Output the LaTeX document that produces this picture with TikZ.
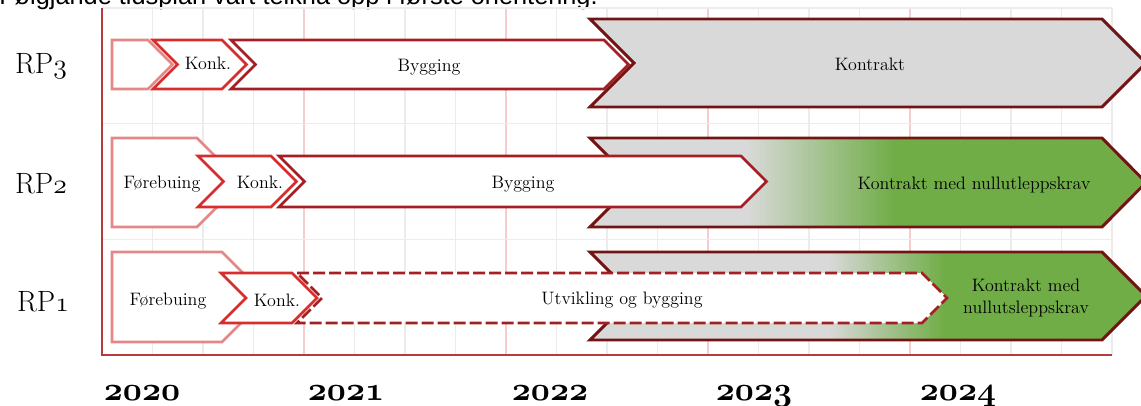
\documentclass[tikz,border=0pt]{standalone}
\usepackage{fontspec}
\newfontfamily\captionfont{Liberation Sans}
\newcommand{\osnum}[1]{{\usefont{OML}{cmm}{m}{it}#1}}
\newcommand{\osbold}[1]{{\usefont{OML}{cmm}{b}{it}#1}}
\definecolor{prepred}{RGB}{230,135,135}
\definecolor{konkred}{RGB}{215,45,45}
\definecolor{buildred}{RGB}{165,30,35}
\definecolor{maroon}{RGB}{115,20,20}
\definecolor{cgray}{RGB}{217,217,217}
\definecolor{cgreen}{RGB}{112,173,71}
\definecolor{gridgray}{RGB}{236,236,236}
\definecolor{gridpink}{RGB}{246,205,205}
\definecolor{axisred}{RGB}{180,60,60}
\begin{document}
\begin{tikzpicture}[x=0.75pt, y=-0.75pt,
    gridline/.style={draw=gridgray, line width=0.8pt},
    yearline/.style={draw=gridpink, line width=0.8pt},
    prepbox/.style={draw=prepred, line width=2pt, fill=white},
    konkbox/.style={draw=konkred, line width=2pt, fill=white},
    buildbox/.style={draw=buildred, line width=2pt, fill=white},
    devbox/.style={draw=buildred, line width=2pt, fill=white, dash pattern=on 9pt off 3pt},
    contractbox/.style={draw=maroon, line width=2.2pt, fill=cgray},
    lbl/.style={anchor=base, inner sep=0pt, text=black, font=\fontsize{13.5}{16}\selectfont},
    rplbl/.style={anchor=base, inner sep=0pt, font=\fontsize{22}{26}\selectfont},
    yearlbl/.style={anchor=base, inner sep=0pt, font=\fontsize{24}{28}\selectfont}]
    \useasboundingbox (0,0) rectangle (1141,405);

    % Caption line (cut off at the top)
    \node[anchor=base west, inner sep=0pt, font=\captionfont\fontsize{19}{22}\selectfont] (caption) at (-1,4)
        {Følgjande tidsplan vart teikna opp i første orientering.};

    % Grid
    \foreach \k in {0,...,20}
        \draw[gridline] ({102+50.5*\k},8) -- ({102+50.5*\k},355);
    \foreach \k in {4,8,12,16}
        \draw[yearline] ({102+50.5*\k},8) -- ({102+50.5*\k},355);
    \foreach \r in {8,123.7,239.3}
        \draw[gridline] (102,\r) -- (1112,\r);

    % Axes
    \draw[axisred, line width=1.4pt] (102,8) -- (102,355) -- (1112,355);

    % RP3
    \draw[contractbox] (590,19) -- (1102,19) -- (1146,63) -- (1102,107) -- (590,107) -- (634,63) -- cycle;
    \draw[prepbox] (112,40) -- (148,40) -- (172.5,64.5) -- (148,89) -- (112,89) -- cycle;
    \draw[konkbox] (153,40) -- (222,40) -- (246.5,64.5) -- (222,89) -- (153,89) -- (177.5,64.5) -- cycle;
    \draw[buildbox] (231,40) -- (604,40) -- (628.5,64.5) -- (604,89) -- (231,89) -- (255.5,64.5) -- cycle;
    \node[lbl] (konk3) at (208,69) {Konk.};
    \node[lbl] (build3) at (429,71) {Bygging};
    \node[lbl] (contract3) at (870,70) {Kontrakt};

    % RP2 (gray fading to green from 745 to 893)
    \draw[contractbox, path picture={
        \foreach \i [evaluate=\i as \p using 2.5*\i] in {0,...,40}
            \fill[cgreen!\p!cgray] ({745+3.7*\i},100) rectangle ({749.5+3.7*\i},260);
        \fill[cgreen] (893,100) rectangle (1160,260);}]
        (590,138) -- (1102,138) -- (1146,182.5) -- (1102,227) -- (590,227) -- (634.5,182.5) -- cycle;
    \draw[prepbox] (112,138) -- (197,138) -- (241.5,182.5) -- (197,227) -- (112,227) -- cycle;
    \draw[konkbox] (198,156) -- (271,156) -- (296.5,181.5) -- (271,207) -- (198,207) -- (223.5,181.5) -- cycle;
    \draw[buildbox] (279,156) -- (741,156) -- (766.5,181.5) -- (741,207) -- (279,207) -- (304.5,181.5) -- cycle;
    \node[lbl] (prep2) at (162,188) {Førebuing};
    \node[lbl] (konk2) at (260,188) {Konk.};
    \node[lbl] (build2) at (523,188) {Bygging};
    \node[lbl] (contract2) at (974,189) {Kontrakt med nullutleppskrav};

    % RP1 (gray fading to green from 827 to 943)
    \draw[contractbox, path picture={
        \foreach \i [evaluate=\i as \p using 2.5*\i] in {0,...,40}
            \fill[cgreen!\p!cgray] ({827+2.9*\i},230) rectangle ({830.5+2.9*\i},360);
        \fill[cgreen] (943,230) rectangle (1160,360);}]
        (590,252) -- (1102,252) -- (1146,296) -- (1102,340) -- (590,340) -- (634,296) -- cycle;
    \draw[prepbox] (112,252) -- (222,252) -- (267,297) -- (222,342) -- (112,342) -- cycle;
    \draw[konkbox] (221,273) -- (292,273) -- (317,298) -- (292,323) -- (221,323) -- (246,298) -- cycle;
    \draw[devbox] (297,273) -- (922,273) -- (947,298) -- (922,323) -- (297,323) -- (322,298) -- cycle;
    \node[lbl] (prep1) at (168,305) {Førebuing};
    \node[lbl] (konk1) at (277,306) {Konk.};
    \node[lbl] (dev1) at (622,304) {Utvikling og bygging};
    \node[lbl, anchor=center, align=center] (contract1) at (1026,298) {Kontrakt med\\nullutsleppskrav};

    % Row labels
    \node[rplbl] (rp3) at (41,73) {RP\osnum{3}};
    \node[rplbl] (rp2) at (41,193) {RP\osnum{2}};
    \node[rplbl] (rp1) at (43,311) {RP\osnum{1}};

    % Years
    \foreach \yr [count=\i from 0] in {2020,2021,2022,2023,2024}
        \node[yearlbl] (year\yr) at ({142+204*\i},400) {\osbold{\yr}};
\end{tikzpicture}
\end{document}
